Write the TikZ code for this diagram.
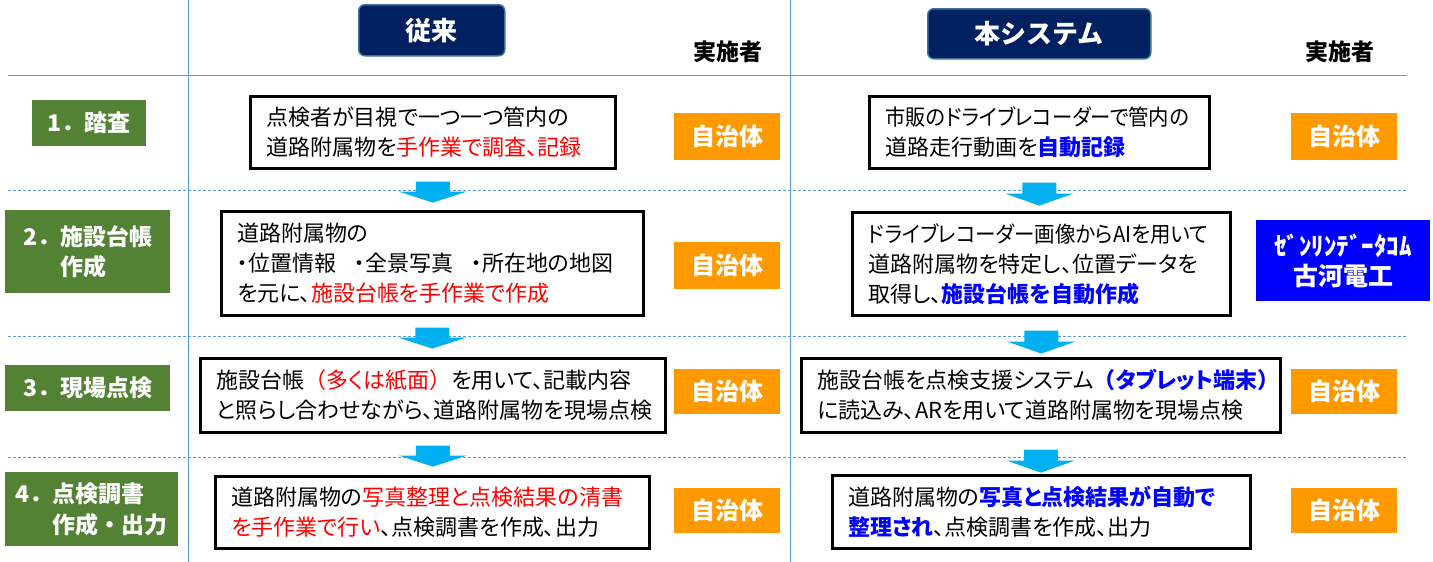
\documentclass[tikz,border=0pt]{standalone}
\usepackage{fontspec}
\usepackage{graphicx}
\setmainfont{Noto Sans CJK JP}[RawFeature=+palt]
\newfontfamily\jpfw{Noto Sans CJK JP}
\usetikzlibrary{calc}
\definecolor{lineblue}{RGB}{91,155,213}
\definecolor{navy}{RGB}{0,32,96}
\definecolor{navyedge}{RGB}{65,113,156}
\definecolor{orangebg}{RGB}{255,153,0}
\definecolor{greenbg}{RGB}{84,130,53}
\definecolor{arrowcyan}{RGB}{0,176,240}
\definecolor{textblue}{RGB}{0,0,255}
\definecolor{textred}{RGB}{255,0,0}
\newcommand{\rd}[1]{\textcolor{textred}{#1}}
\newcommand{\bl}[1]{\textcolor{textblue}{\bfseries #1}}
\newcommand{\narrowline}[2]{\scalebox{#1}[1]{#2}}
\tikzset{
  tbox/.style={draw=black, line width=2.6pt, fill=white, align=left, inner xsep=16pt, inner ysep=0pt,
    font=\fontsize{22}{30}\selectfont, anchor=north west},
  obox/.style={fill=orangebg, text=white, font=\jpfw\bfseries\fontsize{24}{28}\selectfont,
    minimum width=106pt, inner sep=0pt, anchor=north west},
  glabel/.style={fill=greenbg, text=white, font=\jpfw\bfseries\fontsize{23}{30.5}\selectfont,
    align=left, inner sep=0pt, anchor=north west},
  hbox/.style={fill=navy, draw=navyedge, line width=1.5pt, rounded corners=6pt, text=white,
    font=\jpfw\bfseries\fontsize{26}{30}\selectfont, inner sep=0pt, anchor=north west},
  actor/.style={font=\jpfw\bfseries\fontsize{23}{28}\selectfont, inner sep=0pt},
  grid/.style={lineblue, line width=1pt},
  gridd/.style={lineblue, line width=1pt, dash pattern=on 3pt off 2pt},
  dnarrow/.pic={\fill[arrowcyan] (-17,0) -- (17,0) -- (17,#1) -- (34,#1) -- (0,2*#1+1) -- (-34,#1) -- (-17,#1) -- cycle;}
}
\begin{document}
\begin{tikzpicture}[x=1pt, y=-1pt]
\useasboundingbox (0,0) rectangle (1433,562);
\fill[white] (0,0) rectangle (1433,562);
% grid lines
\draw[grid] (188,0) -- (188,562);
\draw[grid] (790,0) -- (790,562);
\draw[grid] (8,75) -- (1407,75);
\draw[gridd] (8,190) -- (1407,190);
\draw[gridd] (8,336) -- (1407,336);
\draw[gridd] (8,457) -- (1407,457);
% headers
\node[hbox, minimum width=146pt, minimum height=51pt] (hl) at (358,4) {従来};
\node[hbox, minimum width=223pt, minimum height=50pt] (hr) at (927,8) {本システム};
\node[actor] (al) at (728,52) {実施者};
\node[actor] (ar) at (1340,52) {実施者};
% step labels
\node[glabel, minimum width=114pt, minimum height=46pt] (g1) at (32,100) {1．踏査};
\node[glabel, minimum width=165pt, minimum height=83pt] (g2) at (5,210) {2．施設台帳\\\phantom{2．}作成};
\node[glabel, minimum width=165pt, minimum height=46pt] (g3) at (5,365) {3．現場点検};
\node[glabel, minimum width=173pt, minimum height=74pt] (g4) at (5,472) {4．点検調書\\\phantom{4．}作成・出力};
% text boxes
\node[tbox, text width=333pt, minimum height=72pt] (l1) at (249,95) {点検者が目視で一つ一つ管内の\\道路附属物を\rd{手作業で調査、記録}};
\node[tbox, text width=308pt, minimum height=72pt] (r1) at (868,95) {\narrowline{0.925}{市販のドライブレコーダーで管内の}\\道路走行動画を\bl{自動記録}};
\node[tbox, text width=390pt, minimum height=104pt] (l2) at (220,210) {道路附属物の\\・位置情報\hspace{18pt}・全景写真\hspace{18pt}・所在地の地図\\を元に、\rd{施設台帳を手作業で作成}};
\node[tbox, text width=346pt, minimum height=103pt] (r2) at (851,211) {\narrowline{0.93}{ドライブレコーダー画像からAIを用いて}\\道路附属物を特定し、位置データを\\取得し、\bl{施設台帳を自動作成}};
\node[tbox, text width=433pt, minimum height=74pt] (l3) at (199,357) {施設台帳\rd{{\jpfw （}多くは紙面{\jpfw ）}}を用いて、記載内容\\と照らし合わせながら、道路附属物を現場点検};
\node[tbox, text width=447pt, minimum height=74pt] (r3) at (800,357) {施設台帳を点検支援システム\bl{{\jpfw （}タブレット端末{\jpfw ）}}\\に読込み、ARを用いて道路附属物を現場点検};
\node[tbox, text width=402pt, minimum height=72pt] (l4) at (214,475) {道路附属物の\rd{写真整理と点検結果の清書}\\\rd{を手作業で行い}、点検調書を作成、出力};
\node[tbox, text width=386pt, minimum height=73pt] (r4) at (831,474) {道路附属物の\bl{写真と点検結果が自動で}\\\bl{整理され}、点検調書を作成、出力};
% actors
\node[obox, minimum height=47pt] (o1l) at (674,113) {自治体};
\node[obox, minimum height=47pt] (o1r) at (1291,113) {自治体};
\node[obox, minimum height=47pt] (o2l) at (674,242) {自治体};
\node[fill=textblue, text=white, font=\jpfw\bfseries\fontsize{25}{30}\selectfont, align=center, inner sep=0pt, anchor=north west, minimum width=174pt, minimum height=81pt] (o2r) at (1256,220) {ｾﾞﾝﾘﾝﾃﾞｰﾀｺﾑ\\古河電工};
\node[obox, minimum height=45pt] (o3l) at (674,369) {自治体};
\node[obox, minimum height=45pt] (o3r) at (1291,369) {自治体};
\node[obox, minimum height=45pt] (o4l) at (674,488) {自治体};
\node[obox, minimum height=45pt] (o4r) at (1291,488) {自治体};
% flow arrows
\pic at ($(l1.south)+(0,12)$) {dnarrow=10};
\pic at ($(r1.south)+(0,13)$) {dnarrow=11};
\pic at ($(l2.south)+(0,11)$) {dnarrow=10};
\pic at ($(r2.south)+(0,14)$) {dnarrow=11};
\pic at ($(l3.south)+(0,12)$) {dnarrow=10};
\pic at ($(r3.south)+(0,16)$) {dnarrow=11};
\end{tikzpicture}
\end{document}
